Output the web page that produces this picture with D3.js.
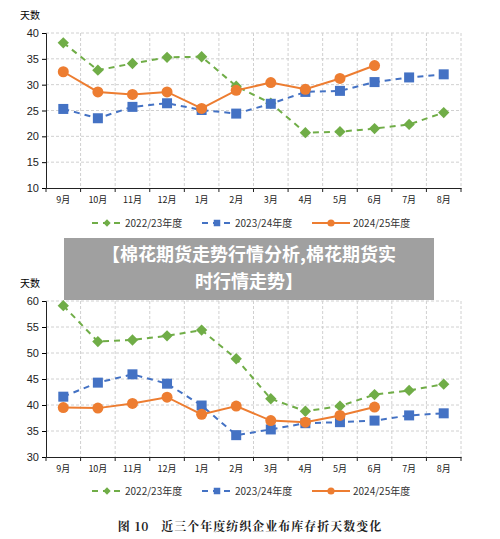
<!DOCTYPE html><html><head><meta charset="utf-8"><script src="https://cdn.jsdelivr.net/npm/d3@7"></script>
<style>body{margin:0;background:#fff}svg{display:block}</style></head><body><svg width="500" height="539"></svg>
<script>
const months=["9月","10月","11月","12月","1月","2月","3月","4月","5月","6月","7月","8月"];
const seriesNames=["2022/23年度","2023/24年度","2024/25年度"];
const top22=[38.1,32.8,34.1,35.3,35.4,29.7,26.4,20.7,20.9,21.5,22.3,24.6];
const top23=[25.3,23.5,25.7,26.4,25.1,24.4,26.3,28.6,28.8,30.5,31.4,32.0];
const top24=[32.5,28.6,28.1,28.6,25.4,28.9,30.4,29.1,31.2,33.7];
const bot22=[59.1,52.2,52.5,53.3,54.4,48.9,41.2,38.8,39.8,42.0,42.8,44.0];
const bot23=[41.6,44.3,45.9,44.1,39.9,34.2,35.3,36.5,36.7,37.0,38.0,38.4];
const bot24=[39.5,39.4,40.3,41.5,38.2,39.8,37.0,36.7,38.0,39.6];
const topTicks=[10,15,20,25,30,35,40], botTicks=[30,35,40,45,50,55,60];
const colors=["#70ad47","#4472c4","#ed7d31"];
const svg=d3.select("svg");
const font="'Liberation Sans',Arial,sans-serif";
function chart(y0,y1,dom,ticks,data,legY){
  const g=svg.append("g");
  const x=d3.scaleBand().domain(months).range([46,461]);
  const y=d3.scaleLinear().domain(dom).range([y1,y0]);
  g.append("text").attr("x",20).attr("y",y0-14).attr("font-size",10).attr("font-family","'Noto Sans CJK SC'").text("天数");
  ticks.forEach(t=>{ if(t!==dom[0]) g.append("line").attr("x1",46).attr("x2",461).attr("y1",y(t)).attr("y2",y(t)).attr("stroke","#d0d0d0").attr("stroke-dasharray","3,2");});
  months.forEach((m,i)=>{const xx=x(m)+x.bandwidth(); g.append("line").attr("x1",xx).attr("x2",xx).attr("y1",y0).attr("y2",y1).attr("stroke","#d0d0d0").attr("stroke-dasharray","3,2");});
  g.append("g").attr("transform",`translate(46,0)`).call(d3.axisLeft(y).tickValues(ticks).tickSize(4).tickPadding(3)).call(a=>{a.selectAll("text").attr("font-size",11).attr("font-family",font).attr("fill","#222");a.select(".domain").attr("stroke","#222");});
  const xa=g.append("g").attr("transform",`translate(0,${y1})`).call(d3.axisBottom(x).tickSize(0).tickPadding(9));
  xa.selectAll("text").attr("font-size",9).attr("font-family","'Noto Sans CJK SC'").attr("fill","#222");
  xa.select(".domain").attr("stroke","#222");
  [46,...months.map(m=>x(m)+x.bandwidth())].forEach(xx=>xa.append("line").attr("x1",xx).attr("x2",xx).attr("y1",0).attr("y2",4).attr("stroke","#222"));
  const cx=i=>x(months[i])+x.bandwidth()/2;
  data.forEach((d,k)=>{
    const line=d3.line().x((v,i)=>cx(i)).y(v=>y(v));
    g.append("path").attr("d",line(d)).attr("fill","none").attr("stroke",colors[k]).attr("stroke-width",2).attr("stroke-dasharray",k<2?"6,5":null);
    d.forEach((v,i)=>marker(g,k,cx(i),y(v),1));
  });
  const lx=[92,202,312];
  seriesNames.forEach((n,k)=>{
    g.append("line").attr("x1",lx[k]).attr("x2",lx[k]+(k<2?30:38)).attr("y1",legY).attr("y2",legY).attr("stroke",colors[k]).attr("stroke-width",2).attr("stroke-dasharray",k<2?"6,5":null);
    marker(g,k,lx[k]+(k<2?15:19),legY,0.65);
    g.append("text").attr("x",lx[k]+(k<2?33:41)).attr("y",legY+4).attr("font-size",10).attr("font-family","'Noto Sans CJK SC'").attr("fill","#333").text(n);
  });
}
function marker(g,k,x,y,s){
  if(k===0) g.append("rect").attr("x",-4*s).attr("y",-4*s).attr("width",8*s).attr("height",8*s).attr("transform",`translate(${x},${y}) rotate(45)`).attr("fill",colors[0]);
  else if(k===1) g.append("rect").attr("x",x-5*s).attr("y",y-5*s).attr("width",10*s).attr("height",10*s).attr("fill",colors[1]);
  else g.append("circle").attr("cx",x).attr("cy",y).attr("r",5.5*s).attr("fill",colors[2]);
}
chart(33,188,[10,40],topTicks,[top22,top23,top24],223);
chart(301,457,[30,60],botTicks,[bot22,bot23,bot24],491);
svg.append("rect").attr("x",64).attr("y",238).attr("width",370).attr("height",62).attr("fill","#a0a0a0");
svg.append("text").attr("x",249).attr("y",261).attr("text-anchor","middle").attr("font-size",18).attr("font-weight","bold").attr("fill","#fff").attr("font-family","'Noto Sans CJK SC'").text("【棉花期货走势行情分析,棉花期货实");
svg.append("text").attr("x",249).attr("y",288).attr("text-anchor","middle").attr("font-size",18).attr("font-weight","bold").attr("fill","#fff").attr("font-family","'Noto Sans CJK SC'").text("时行情走势】");
svg.append("text").attr("x",250).attr("y",531).attr("text-anchor","middle").attr("font-size",12).attr("font-weight","bold").attr("fill","#222").attr("font-family","'Noto Serif CJK SC','Noto Sans CJK SC'").attr("letter-spacing",1).attr("xml:space","preserve").style("white-space","pre").text("图 10\u00a0\u00a0\u00a0近三个年度纺织企业布库存折天数变化");
</script></body></html>
